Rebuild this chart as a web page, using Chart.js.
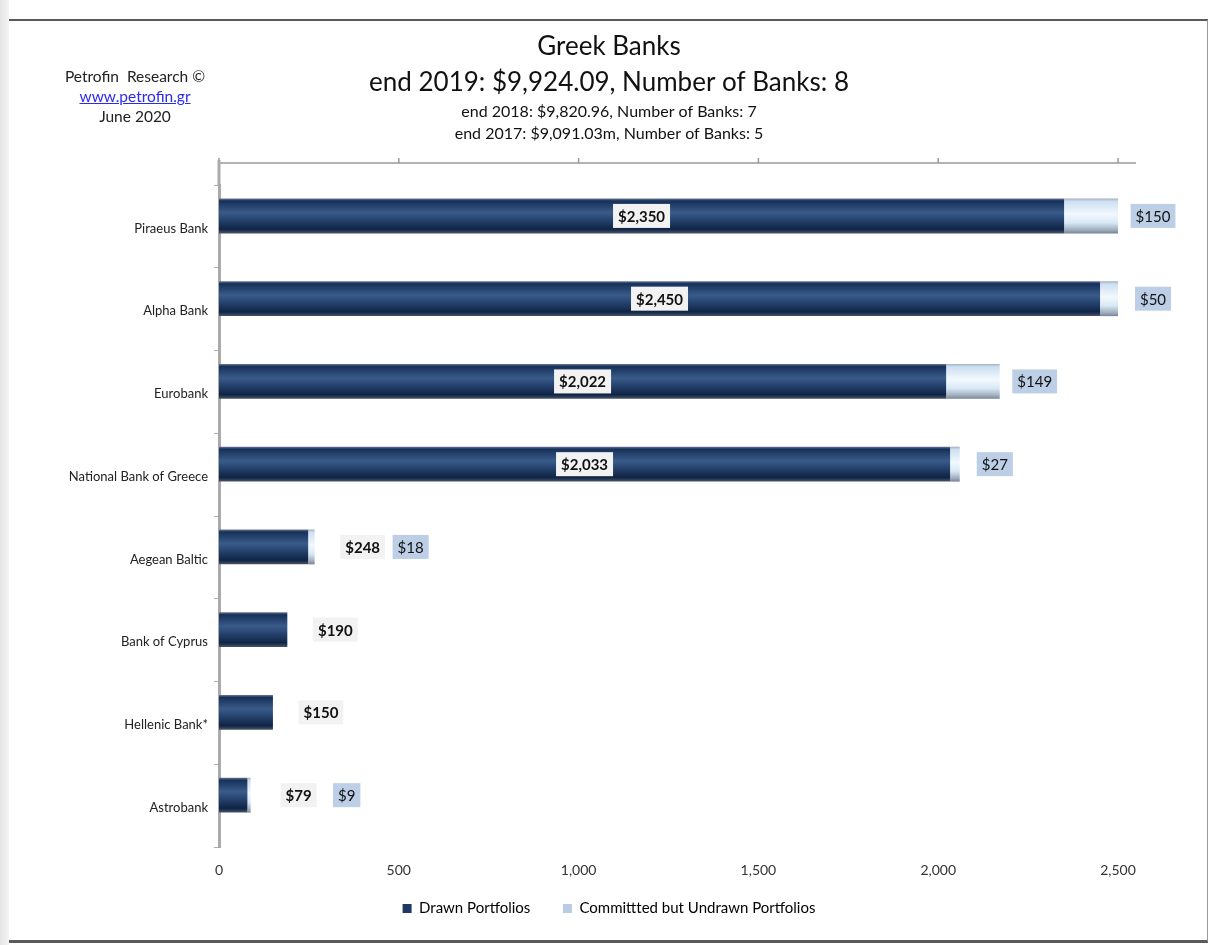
<!DOCTYPE html>
<html>
<head>
<meta charset="utf-8">
<script src="https://cdn.jsdelivr.net/npm/chart.js@4.4.1/dist/chart.umd.min.js"></script>
<style>
  html, body { margin: 0; padding: 0; background: #fff; }
  body { width: 1218px; height: 945px; position: relative; overflow: hidden; font-family: Lato, "Open Sans", sans-serif; }
  #shadow { position: absolute; left: 0; top: 0; width: 9px; height: 945px; background: linear-gradient(to right, #e6e6e6, #f4f4f4); }
  #frame { position: absolute; left: 9px; top: 19px; width: 1198px; height: 919px; border-top: 2px solid #5a5a5a; border-right: 1px solid #9a9a9a; border-bottom: 3px solid #5a5a5a; }
  #brand { position: absolute; left: 35px; top: 66px; width: 200px; text-align: center; font-size: 15.5px; line-height: 20px; color: #222; z-index: 2; }
  #brand a { color: #2b2bf0; text-decoration: underline; }
  #wrap { position: absolute; left: 0; top: 0; width: 1218px; height: 945px; z-index: 1; }
</style>
</head>
<body>
<div id="shadow"></div>
<div id="frame"></div>
<div id="brand">Petrofin&nbsp; Research ©<br><a href="#">www.petrofin.gr</a><br>June 2020</div>
<div id="wrap"><canvas id="c" width="1218" height="945"></canvas></div>
<script>
const categories = ["Piraeus Bank", "Alpha Bank", "Eurobank", "National Bank of Greece", "Aegean Baltic", "Bank of Cyprus", "Hellenic Bank*", "Astrobank"];
const drawnPortfolios = [2350, 2450, 2022, 2033, 248, 190, 150, 79];
const undrawnPortfolios = [150, 50, 149, 27, 18, 0, 0, 9];
const spacerSeries = [0, 0, 0, 0, 0, 0, 0, 0];
const xTickValues = [0, 500, 1000, 1500, 2000, 2500];
const titleLines = ["Greek Banks", "end 2019: $9,924.09, Number of Banks: 8"];
const subtitleLines = ["end 2018: $9,820.96, Number of Banks: 7", "end 2017: $9,091.03m, Number of Banks: 5"];
const legendNames = ["Drawn Portfolios", "Committted but Undrawn Portfolios"];

const FONT = "Lato, 'Open Sans', sans-serif";

function barGradient(ctx, stops) {
  const el = ctx.element;
  const fallback = stops[2][1];
  if (!el || !isFinite(el.y) || !isFinite(el.height) || el.height <= 0) return fallback;
  const g = ctx.chart.ctx.createLinearGradient(0, el.y - el.height / 2, 0, el.y + el.height / 2);
  stops.forEach(s => g.addColorStop(s[0], s[1]));
  return g;
}
const darkStops = [[0, '#6a7a92'], [0.07, '#16305a'], [0.40, '#3a5b89'], [0.55, '#2b4a77'], [0.88, '#0f2445'], [1, '#4a566a']];
const lightStops = [[0, '#a2b0c0'], [0.08, '#cddff0'], [0.45, '#f2f9ff'], [0.7, '#d9e8f5'], [0.9, '#a0aebd'], [1, '#76849a']];

function fmt(v) { return '$' + v.toLocaleString('en-US'); }

function drawBox(ctx, text, cx, cy, bg, bold) {
  ctx.font = (bold ? 'bold ' : '') + '15px ' + FONT;
  const w = ctx.measureText(text).width + 10;
  const h = 24;
  ctx.fillStyle = bg;
  ctx.fillRect(cx - w / 2, cy - h / 2, w, h);
  ctx.fillStyle = '#111';
  ctx.textAlign = 'center';
  ctx.textBaseline = 'middle';
  ctx.fillText(text, cx, cy + 1);
}

const labelPlugin = {
  id: 'barLabels',
  afterDatasetsDraw(chart) {
    const ctx = chart.ctx;
    const m0 = chart.getDatasetMeta(0).data;
    const m1 = chart.getDatasetMeta(1).data;
    ctx.save();
    for (let i = 0; i < categories.length; i++) {
      const b0 = m0[i], b1 = m1[i];
      const y = b0.y;
      const totalEnd = Math.max(b0.x, b1.x);
      const inside = (b0.x - b0.base) > 200;
      const dx = inside ? (b0.x + b0.base) / 2 : totalEnd + 48;
      drawBox(ctx, fmt(drawnPortfolios[i]), dx, y, '#f2f2f2', true);
      if (undrawnPortfolios[i] > 0) {
        const ux = inside ? totalEnd + 35 : dx + 48;
        drawBox(ctx, fmt(undrawnPortfolios[i]), ux, y, '#bccfe6', false);
      }
    }
    ctx.restore();
  }
};

// top value axis line (sits above the plot, as in the original)
const topAxisPlugin = {
  id: 'topAxis',
  afterDraw(chart) {
    const ctx = chart.ctx, xs = chart.scales.x, area = chart.chartArea;
    const yTop = area.top - 22;
    ctx.save();
    ctx.strokeStyle = '#9a9a9a';
    ctx.lineWidth = 1.5;
    ctx.beginPath();
    ctx.moveTo(area.left, yTop);
    ctx.lineTo(area.right, yTop);
    xTickValues.forEach(v => {
      const px = xs.getPixelForValue(v);
      ctx.moveTo(px, yTop);
      ctx.lineTo(px, yTop - 5);
    });
    ctx.stroke();
    ctx.strokeStyle = '#aaa';
    ctx.lineWidth = 3;
    ctx.beginPath();
    ctx.moveTo(area.left, yTop - 3);
    ctx.lineTo(area.left, area.top);
    ctx.stroke();
    ctx.restore();
  }
};

function keepTicks(scale) {
  scale.ticks = xTickValues.map(v => ({ value: v }));
}

const chart = new Chart(document.getElementById('c'), {
  type: 'bar',
  data: {
    labels: categories,
    datasets: [
      { label: legendNames[0], data: drawnPortfolios, stack: 'a', backgroundColor: c => barGradient(c, darkStops), borderWidth: 0 },
      { label: legendNames[1], data: undrawnPortfolios, stack: 'a', backgroundColor: c => barGradient(c, lightStops), borderWidth: 0 },
      { label: 'spacer', data: spacerSeries, stack: 'b', backgroundColor: 'rgba(0,0,0,0)', borderWidth: 0 }
    ]
  },
  options: {
    indexAxis: 'y',
    responsive: false,
    animation: false,
    locale: 'en-US',
    categoryPercentage: 0.506,
    barPercentage: 1.667,
    layout: { padding: { left: 0, right: 0, top: 0, bottom: 19 } },
    scales: {
      x: {
        stacked: true, min: 0, max: 2550, position: 'bottom',
        afterBuildTicks: keepTicks,
        afterFit: s => { s.height = 44; },
        grid: { display: false },
        border: { display: false },
        ticks: { padding: 7, color: '#333', font: { family: FONT, size: 14 } }
      },
      y: {
        stacked: true,
        afterFit: s => { s.width = 219; },
        grid: { drawOnChartArea: false, offset: true, tickLength: 5, color: '#aaa' },
        border: { display: true, color: '#aaa', width: 3 },
        ticks: { padding: 6, labelOffset: 2, color: '#222', font: { family: FONT, size: 13 } }
      },
      yRight: {
        type: 'category', axis: 'y', position: 'right', labels: categories,
        afterFit: s => { s.width = 82; },
        grid: { display: false },
        border: { display: false },
        ticks: { display: false }
      }
    },
    plugins: {
      title: { display: true, text: titleLines, color: '#111', font: { family: FONT, size: 26, weight: 'normal', lineHeight: 1.385 }, padding: { top: 29, bottom: 0 } },
      subtitle: { display: true, text: subtitleLines, color: '#111', font: { family: FONT, size: 16, lineHeight: 1.375 }, padding: { top: 0, bottom: 40 } },
      legend: {
        position: 'bottom',
        labels: { boxWidth: 9, boxHeight: 9, padding: 10, color: '#222', font: { family: FONT, size: 15 },
          generateLabels: () => [
            { text: legendNames[0] + '\u2003\u2002 ', fillStyle: '#1f3864', strokeStyle: '#1f3864', lineWidth: 0, datasetIndex: 0 },
            { text: legendNames[1], fillStyle: '#b8cce4', strokeStyle: '#b8cce4', lineWidth: 0, datasetIndex: 1 }
          ] }
      },
      tooltip: { enabled: false }
    }
  },
  plugins: [labelPlugin, topAxisPlugin]
});
chart.update();
</script>
</body>
</html>
